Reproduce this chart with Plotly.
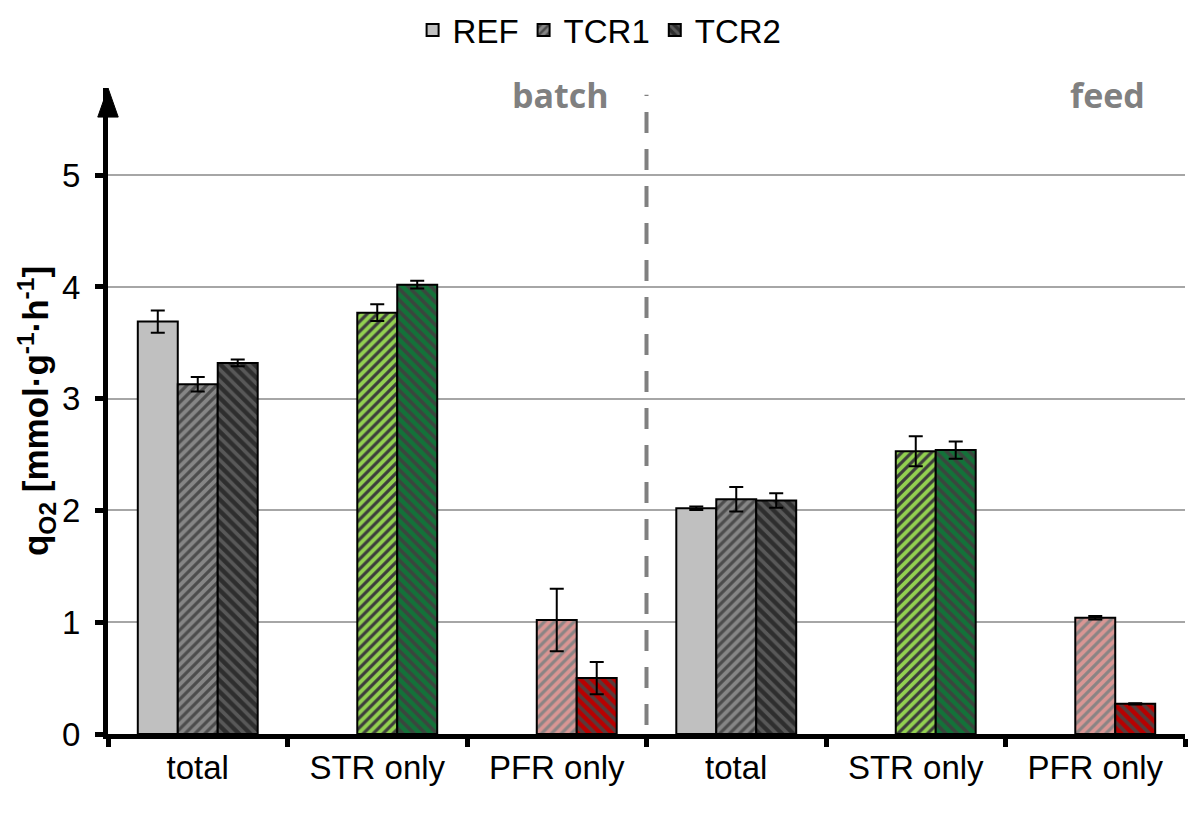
import plotly.graph_objects as go

# ---- data ----
cat_ids = ["batch total", "batch STR only", "batch PFR only",
           "feed total", "feed STR only", "feed PFR only"]
cat_labels = ["total", "STR only", "PFR only", "total", "STR only", "PFR only"]
series_names = ["REF", "TCR1", "TCR2"]

ref_vals = [3.69, None, None, 2.02, None, None]
ref_err = [0.10, None, None, 0.015, None, None]
tcr1_vals = [3.13, 3.77, 1.02, 2.10, 2.53, 1.04]
tcr1_err = [0.065, 0.075, 0.28, 0.11, 0.135, 0.015]
tcr2_vals = [3.32, 4.02, 0.50, 2.09, 2.54, 0.27]
tcr2_err = [0.03, 0.035, 0.145, 0.065, 0.077, 0.006]

y_ticks = [0, 1, 2, 3, 4, 5]
phase_labels = ["batch", "feed"]

# colour group of each category (total = grey, STR = green, PFR = red)
cat_group = ["grey", "green", "red", "grey", "green", "red"]

# ---- styles ----
FONT = "Liberation Sans, Arial, sans-serif"
tcr1_style = {"grey": ("#868686", "#4c4c4c"),
              "green": ("#92d050", "#3c3c3c"),
              "red": ("#d99694", "#8a8484")}
tcr2_style = {"grey": ("#2e2e2e", "#585858"),
              "green": ("#137239", "#3a463e"),
              "red": ("#b80000", "#583a3a")}

fig = go.Figure()

err_style = dict(type="data", color="black", thickness=2, width=7, visible=True)
line_style = dict(color="black", width=2)

fig.add_trace(go.Bar(
    name=series_names[0], x=cat_ids, y=ref_vals, offsetgroup="REF",
    error_y=dict(array=ref_err, **err_style),
    marker=dict(color="#c0c0c0", line=line_style),
))


def subset(values, group):
    return [v if g == group else None for v, g in zip(values, cat_group)]


for name, vals, errs, styles, shape, size in [
    (series_names[1], tcr1_vals, tcr1_err, tcr1_style, "/", 7),
    (series_names[2], tcr2_vals, tcr2_err, tcr2_style, "\\", 8),
]:
    for grp, (bg, fg) in styles.items():
        fig.add_trace(go.Bar(
            name=name, x=cat_ids, y=subset(vals, grp), offsetgroup=name,
            legendgroup=name, showlegend=(grp == "grey"),
            error_y=dict(array=subset(errs, grp), **err_style),
            marker=dict(color=bg, line=line_style,
                        pattern=dict(shape=shape, fgcolor=fg, bgcolor=bg,
                                     fgopacity=1, size=size, solidity=0.45,
                                     fillmode="overlay")),
        ))

# dashed divider between batch and feed
fig.add_shape(type="line", xref="x", yref="y", x0=2.5, x1=2.5, y0=0.08, y1=5.72,
              line=dict(color="#808080", width=4, dash="21px,16px"))

# y-axis arrow head
fig.add_shape(type="path", xref="paper", yref="paper",
              path="M -0.0095 0.955 L 0.0095 0.955 L 0 1.0 Z",
              fillcolor="black", line=dict(color="black", width=1))

# phase labels
fig.add_annotation(x=2.02, y=5.72, xref="x", yref="y", text=phase_labels[0],
                   showarrow=False, font=dict(family="Open Sans, Lato, sans-serif",
                                              size=34, color="#808080", weight="bold"))
fig.add_annotation(x=5.07, y=5.72, xref="x", yref="y", text=phase_labels[1],
                   showarrow=False, font=dict(family="Open Sans, Lato, sans-serif",
                                              size=34, color="#808080", weight="bold"))

fig.update_layout(
    width=1200, height=819,
    margin=dict(l=100, r=23, t=80, b=93),
    paper_bgcolor="white", plot_bgcolor="white",
    barmode="group", bargap=0.332, bargroupgap=0,
    font=dict(family=FONT, size=33, color="black"),
    showlegend=True,
    legend=dict(orientation="h", xref="container", yref="container",
                x=0.493, xanchor="center", y=0.973, yanchor="middle",
                font=dict(size=33), itemwidth=30, tracegroupgap=0,
                bgcolor="rgba(0,0,0,0)"),
    xaxis=dict(
        type="category", tickmode="array", tickvals=cat_ids, ticktext=cat_labels,
        tickson="boundaries", ticks="outside", ticklen=8, tickwidth=5,
        tickcolor="black", showline=True, linecolor="black", linewidth=5,
        showgrid=False, tickfont=dict(size=33), range=[-0.5, 5.5],
    ),
    yaxis=dict(
        range=[0, 5.78], tickvals=y_ticks, ticks="outside", ticklen=8, tickwidth=5,
        tickcolor="black", showline=True, linecolor="black", linewidth=5,
        showgrid=True, gridcolor="#a6a6a6", gridwidth=2, zeroline=False,
        tickfont=dict(size=33), ticklabelstandoff=8,
        title=dict(text="<b>q<sub>O2</sub> [mmol·g<sup>-1</sup>·h<sup>-1</sup>]</b>",
                   font=dict(size=35), standoff=4),
    ),
)

fig.write_html("out.html")
